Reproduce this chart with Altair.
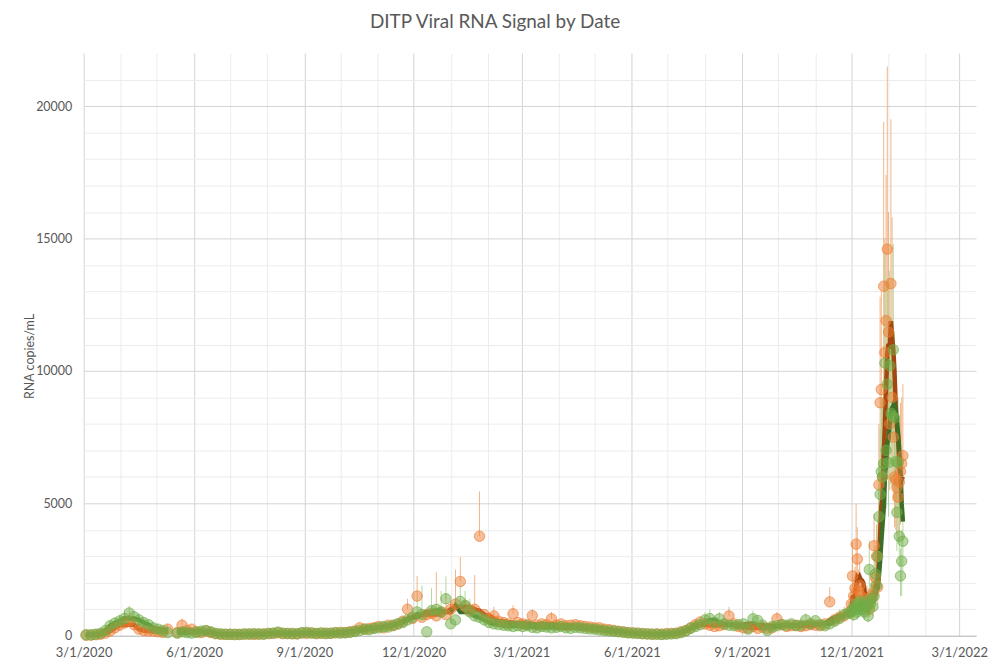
import altair as alt
import pandas as pd

TITLE = "DITP Viral RNA Signal by Date"
Y_TITLE = "RNA copies/mL"
X_TICK_START = "2020-03-01"
X_TICK_END = "2022-03-01"
X_DOMAIN = ["2020-03-01", "2022-03-15"]
Y_MAX = 22000

# Base period: one reading every 4 days from 2020-03-03 (None = no sample)
BASE_START = "2020-03-03"
BASE_STEP_DAYS = 4
GAP_INDEX = 18

green_base = [
    40, 30, 60, 90, 200, 380, 480, 560, 650, 860, 720, 600, 500, 420, 300, 250, 200, 120,
    None,
    100, 150, 120, 100, 130, 180, 200, 150, 90, 70, 60, 50, 60, 50, 70, 60, 80, 70, 60, 90,
    100, 140, 100, 80, 90, 70, 120, 130, 100, 90, 110, 80, 100, 120, 100, 110, 130, 160,
    200, 250, 230, 280, 300, 350, 330, 400, 450, 500, 600, 700, 900, 800, 150, 950, 1000, 900,
    1400, 450, 600, 1300, 1150, 900, 750, 700, 600, 500, 450, 420, 400, 380, 350, 380,
    350, 380, 320, 300, 350, 330, 300, 320, 350, 300, 280, 320, 300, 280, 260, 250, 220, 200,
    180, 170, 150, 130, 110, 100, 90, 80, 70, 60, 60, 50, 60, 70, 80,
    120, 180, 280, 350, 420, 600, 650, 500, 640, 450, 400, 380, 420, 450, 250, 640, 580, 400,
    200, 350, 380, 420, 400, 450, 380, 400, 600, 450, 570, 420, 380, 450, 550, 650, 800, 850,
]
orange_base = [
    20, 30, 40, 60, 100, 180, 300, 400, 480, 560, 420, 250, 200, 180, 170, 150, 130, 250,
    None,
    120, 400, 200, 250, 150, 120, 180, 120, 80, 60, 50, 60, 40, 50, 60, 70, 50, 60, 70, 80,
    90, 110, 80, 90, 70, 80, 100, 90, 110, 80, 90, 100, 90, 110, 130, 120, 150, 180,
    300, 250, 280, 300, 350, 300, 400, 380, 450, 550, 1000, 650, 1500, 700, 800, 850, 750, 900,
    800, 1000, 1200, 2050, 1100, 950, 1000, 3760, 800, 650, 750, 550, 500, 450, 830, 500,
    450, 420, 760, 400, 450, 420, 640, 400, 450, 380, 400, 420, 380, 350, 330, 300, 300, 250,
    230, 200, 170, 150, 120, 110, 100, 80, 70, 60, 70, 60, 80, 90, 100,
    150, 200, 300, 420, 520, 450, 400, 350, 380, 420, 750, 450, 350, 300, 300, 350, 280, 320,
    280, 300, 640, 420, 350, 380, 400, 350, 380, 420, 400, 380, 450, 1280, 600, 700, 750, 900,
]
# upper ends of the visible error bars in the base period (index -> value)
orange_base_hi = {5: 500, 9: 900, 17: 450, 20: 650, 67: 1400, 69: 2260, 73: 2400, 75: 1600,
                  77: 2500, 78: 2970, 81: 2300, 82: 5450, 85: 1100, 89: 1150, 93: 1000,
                  97: 900, 134: 1090, 144: 900, 155: 1840, 158: 1100, 159: 1300}
green_base_hi = {7: 800, 8: 950, 9: 1130, 11: 850, 69: 1500, 70: 1900, 72: 1800, 74: 1700,
                 75: 2240, 76: 1300, 78: 1900, 79: 1700, 80: 1400, 129: 900, 130: 1000,
                 132: 900, 139: 950, 150: 850, 157: 1000}

# Daily readings 2021-12-01 .. 2022-01-13
PEAK_START = "2021-12-01"
orange_peak = [
    1200, 2260, 1500, 1800, 3460, 2900, 1700, 1900, 1500, 1300,
    1200, 1400, 1100, 1300, 1200, 1000, 1400, 1500, 1600, 3400,
    2200, 3000, 1840, 5700, 8800, 9300, 6000, 13200, 10700, 11900,
    14600, 11470, 8000, 13300, 9000, 7500, 6000, 5900, 5600, 5230,
    5800, 6200, 6500, 6800,
]
orange_peak_hi = [
    1800, 3500, 2200, 2600, 5000, 4100, 2500, 2800, 2200, 1900,
    1800, 2000, 1600, 1900, 1800, 1500, 2000, 2200, 2400, 4600,
    3200, 4200, 2700, 8000, 12800, 13000, 9000, 19400, 15000, 17400,
    21500, 16000, 11500, 19500, 15800, 11000, 9000, 8500, 8000, 7500,
    8200, 8800, 9000, 9500,
]
orange_peak_lo = [
    800, 1500, 1000, 1200, 2400, 2000, 1100, 1300, 1000, 900,
    800, 950, 750, 900, 800, 700, 950, 1000, 1100, 2300,
    1500, 2000, 1200, 3900, 6000, 6400, 4100, 9000, 7300, 8100,
    9900, 7800, 5500, 9000, 6100, 5100, 4100, 4000, 3800, 3600,
    3900, 4200, 4400, 4600,
]
green_peak = [
    900, 1000, 800, 1100, 1200, 900, 1000, 1300, 1100, 1200,
    1000, 900, 1300, 1100, 750, 2500, 1200, 1400, 1100, 1500,
    2330, 1900, 3000, 4500, 5340, 6200, 6000, 6500, 10300, 7000,
    9500, 6540, 10200, 8400, 8300, 10800, 8230, 6580, 4660, 6540,
    3760, 2260, 2820, 3570,
]
green_peak_hi = [
    1300, 1500, 1200, 1600, 1800, 1300, 1500, 1900, 1600, 1800,
    1500, 1300, 1900, 1600, 1100, 3600, 1800, 2000, 1600, 2200,
    3400, 2800, 4400, 6600, 7800, 9000, 8800, 9500, 14500, 10200,
    13500, 9500, 13800, 12000, 11800, 14800, 11500, 9200, 6600, 9000,
    5300, 3300, 4000, 5000,
]
green_peak_lo = [
    600, 700, 550, 750, 800, 600, 700, 900, 750, 800,
    700, 600, 900, 750, 500, 1700, 800, 950, 750, 1000,
    1600, 1300, 2000, 3000, 3600, 4200, 4100, 4400, 7000, 4800,
    6500, 4500, 7000, 5700, 5600, 7400, 5600, 4500, 3200, 4500,
    2600, 1500, 1500, 2400,
]


def build(base, peak, base_hi, peak_hi, peak_lo):
    start = pd.Timestamp(BASE_START)
    rows = []
    for i, v in enumerate(base):
        if v is None:
            continue
        rows.append({"date": start + pd.Timedelta(days=BASE_STEP_DAYS * i), "value": v,
                     "hi": base_hi.get(i, v), "lo": v,
                     "seg": 0 if i < GAP_INDEX else 1, "part": "base"})
    pstart = pd.Timestamp(PEAK_START)
    for k, v in enumerate(peak):
        rows.append({"date": pstart + pd.Timedelta(days=k), "value": v,
                     "hi": peak_hi[k], "lo": peak_lo[k], "seg": 1, "part": "peak"})
    df = pd.DataFrame(rows)
    med = df.groupby("seg")["value"].transform(
        lambda s: s.rolling(5, center=True, min_periods=1).median())
    mean7 = df.set_index("date")["value"].rolling("7D").mean().values
    df["trend"] = med.where(df["part"] == "base", mean7)
    df["date"] = df["date"].dt.strftime("%Y-%m-%d")
    return df


orange = build(orange_base, orange_peak, orange_base_hi, orange_peak_hi, orange_peak_lo)
green = build(green_base, green_peak, green_base_hi, green_peak_hi, green_peak_lo)


def ms(s):
    return int(pd.Timestamp(s).value // 10**6)


month_ticks = [ms(d) for d in pd.date_range(X_TICK_START, X_TICK_END, freq="MS")]

FONT = "Lato"
TXT = "#595959"

xaxis = alt.Axis(
    values=month_ticks,
    labelExpr="utcmonth(datum.value) % 3 == 2 ? (utcmonth(datum.value)+1) + '/' + utcdate(datum.value) + '/' + utcyear(datum.value) : ''",
    gridColor={"condition": {"test": "utcmonth(datum.value) % 3 == 2", "value": "#d4d4d4"},
               "value": "#ececec"},
    ticks=False, labelPadding=11, labelOverlap=False, labelBound=False, labelFlush=False,
    domainColor="#bfbfbf", labelFontSize=13, labelColor=TXT, labelFont=FONT,
)
yaxis = alt.Axis(
    values=list(range(0, 22000, 1000)),
    format="d",
    labelExpr="datum.value % 5000 == 0 ? datum.label : ''",
    gridColor={"condition": {"test": "datum.value % 5000 == 0", "value": "#d4d4d4"},
               "value": "#ececec"},
    ticks=False, domain=False, labelPadding=12, labelOverlap=False, labelFlush=False,
    labelFontSize=12.5, labelColor=TXT, labelFont=FONT,
    titleFont=FONT, titleFontSize=12.5, titleColor=TXT, titleFontWeight="normal",
    titleX=-54, titleY=304, titleAngle=-90, titleAlign="center", titleBaseline="middle",
)
xscale = alt.Scale(type="utc", domain=[ms(X_DOMAIN[0]), ms(X_DOMAIN[1])])
yscale = alt.Scale(domain=[0, Y_MAX], nice=False)

x_enc = alt.X("date:T", title=None, scale=xscale, axis=xaxis)


def yq(field):
    return alt.Y(f"{field}:Q", title=Y_TITLE, scale=yscale, axis=yaxis)


def bars(df, color):
    d = df[df["hi"] != df["lo"]]
    return alt.Chart(d).mark_rule(color=color, strokeWidth=1, opacity=0.85).encode(
        x=x_enc, y=yq("lo"), y2="hi:Q")


def points(df, color):
    return alt.Chart(df).mark_circle(size=110, fill=color, fillOpacity=0.5, stroke=color,
                                     strokeOpacity=0.65, strokeWidth=1).encode(
        x=x_enc, y=yq("value"))


def trend(df, color):
    return alt.Chart(df).mark_line(color=color, strokeWidth=4.5).encode(
        x=x_enc, y=yq("trend"), detail="seg:N")


chart = alt.layer(
    bars(orange, "#EDAA74"),
    bars(green, "#A9D18E"),
    trend(orange, "#A34610"),
    trend(green, "#3D6E27"),
    points(orange, "#ED7D31"),
    points(green, "#70AD47"),
).properties(
    width=896, height=585,
    title=alt.TitleParams(TITLE, font=FONT, fontSize=19, color=TXT, fontWeight="normal",
                          anchor="middle", dx=-35, dy=16, offset=22, baseline="alphabetic"),
    padding={"left": 76, "top": 44, "right": 13, "bottom": 24},
    autosize="none",
    background="white",
).configure_view(stroke=None)

chart.save("out.html", embed_options={"renderer": "svg", "actions": False})
